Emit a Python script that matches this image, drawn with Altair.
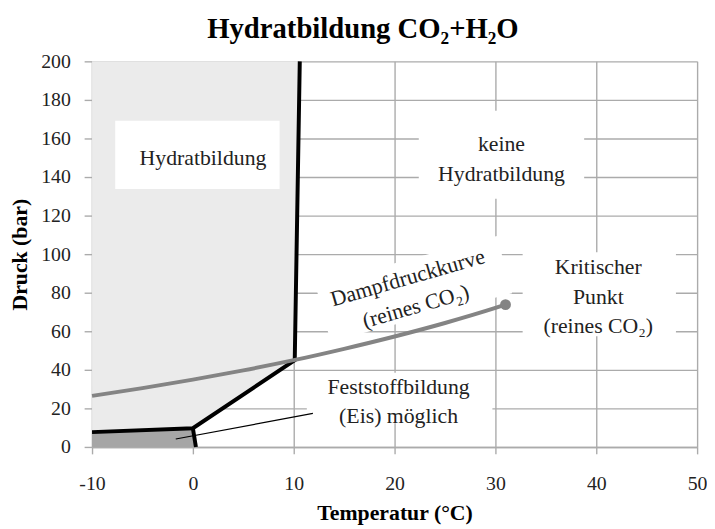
import altair as alt
import pandas as pd

# ---- data ----
hyd_T = [-10.0, 0.0, 10.1, 10.6]
hyd_p = [7.7, 9.7, 45.0, 200.0]
ice_T = [0.0, 0.3]
ice_p = [9.7, 0.0]
vap_T = [-10, -5, 0, 5, 10, 15, 20, 25, 30, 31]
vap_p = [26.5, 30.5, 34.9, 39.7, 45.0, 50.9, 57.3, 64.3, 72.1, 73.8]
crit_T = [31.0]
crit_p = [73.8]
leader_T = [-1.7, 11.9]
leader_p = [4.1, 17.4]
p_top = 200.0

# annotation boxes (data units): T0, T1, p0, p1
box_T0 = [-7.7, 22.4, 11.3, 32.7]
box_T1 = [8.6, 38.8, 29.7, 47.9]
box_p0 = [133.8, 128.7, 12.3, 57.4]
box_p1 = [169.2, 174.4, 38.5, 101.0]
# rotated box behind the vapour-pressure label (centre line)
rbox_T = [12.9, 30.9]
rbox_p = [69.4, 94.6]

labels = ["Hydratbildung", "keine\nHydratbildung", "Feststoffbildung\n(Eis) möglich",
          "Kritischer\nPunkt\n(reines CO₂)"]
label_T = [1.0, 30.6, 20.4, 40.2]
label_p = [149.7, 156.9, 31.3, 93.3]
rot_label = ["Dampfdruckkurve\n(reines CO₂)"]
rot_T = [21.3]
rot_p = [87.7]

x_ticks = [-10, 0, 10, 20, 30, 40, 50]
y_ticks = [0, 20, 40, 60, 80, 100, 120, 140, 160, 180, 200]

FONT = "Liberation Serif"
GRID = "#ababab"

xs = alt.Scale(domain=[-10, 50], nice=False, zero=False)
ys = alt.Scale(domain=[0, 200], nice=False)

X = alt.X("T:Q", scale=xs,
          axis=alt.Axis(values=x_ticks, title="Temperatur (°C)", labelFlush=False,
                        labelOverlap=False, tickSize=7, labelPadding=20, titlePadding=9,
                        labelExpr="'' + datum.value"))
Y = alt.Y("p:Q", scale=ys,
          axis=alt.Axis(values=y_ticks, title="Druck (bar)", labelFlush=False,
                        labelOverlap=False, tickSize=8, labelPadding=14, titlePadding=9))

hyd = pd.DataFrame({"T": hyd_T, "p": hyd_p, "i": range(len(hyd_T))})
light_df = pd.DataFrame({"T": hyd_T, "p": hyd_p, "top": [p_top] * len(hyd_T)})
ice = pd.DataFrame({"T": ice_T, "p": ice_p, "i": range(len(ice_T))})
dark = pd.DataFrame({"T": hyd_T[:2] + [ice_T[1]], "p": hyd_p[:2] + [ice_p[1]],
                     "bot": [0.0, 0.0, 0.0]})
vap = pd.DataFrame({"T": vap_T, "p": vap_p})
crit = pd.DataFrame({"T": crit_T, "p": crit_p})
leader = pd.DataFrame({"T": leader_T, "p": leader_p, "i": [0, 1]})
boxes = pd.DataFrame({"T": box_T0, "T2": box_T1, "p": box_p0, "p2": box_p1})
rbox = pd.DataFrame({"T": [rbox_T[0]], "T2": [rbox_T[1]], "p": [rbox_p[0]], "p2": [rbox_p[1]]})
lab = pd.DataFrame({"T": label_T, "p": label_p, "txt": labels})
rlab = pd.DataFrame({"T": rot_T, "p": rot_p, "txt": rot_label})

light = alt.Chart(light_df).mark_area(color="#ebebeb", opacity=1).encode(
    x=X, y=Y, y2="top:Q")
darkarea = alt.Chart(dark).mark_area(color="#a6a6a6", opacity=1).encode(
    x=X, y=Y, y2="bot:Q")
boxl = alt.Chart(boxes).mark_rect(color="white").encode(
    x=X, x2="T2:Q", y=Y, y2="p2:Q")
rboxl = alt.Chart(rbox).mark_rule(color="white", strokeWidth=60, strokeCap="butt").encode(
    x=X, x2="T2:Q", y=Y, y2="p2:Q")
leaderl = alt.Chart(leader).mark_line(color="black", strokeWidth=1.2).encode(
    x=X, y=Y, order="i:Q")
hydl = alt.Chart(hyd).mark_line(color="black", strokeWidth=4).encode(x=X, y=Y, order="i:Q")
icel = alt.Chart(ice).mark_line(color="black", strokeWidth=4).encode(x=X, y=Y, order="i:Q")
vapl = alt.Chart(vap).mark_line(color="#848484", strokeWidth=4, interpolate="monotone").encode(
    x=X, y=Y)
critl = alt.Chart(crit).mark_point(filled=True, color="#848484", size=120, opacity=1).encode(
    x=X, y=Y)
labl = alt.Chart(lab).mark_text(font=FONT, fontSize=22, color="#222222", lineBreak="\n",
                                lineHeight=30, align="center", baseline="middle").encode(
    x=X, y=Y, text="txt:N")
rlabl = alt.Chart(rlab).mark_text(font=FONT, fontSize=22, color="#222222", lineBreak="\n",
                                  lineHeight=30, align="center", baseline="middle",
                                  angle=344).encode(x=X, y=Y, text="txt:N")

chart = alt.layer(light, darkarea, boxl, rboxl, leaderl, hydl, icel, vapl, critl, labl, rlabl
).properties(
    width=612, height=390,
    title=alt.TitleParams("Hydratbildung  CO₂+H₂O", font=FONT, fontSize=29, fontWeight="bold",
                          color="black", anchor="middle", dx=-32, offset=8),
    padding={"left": 85, "top": 51, "right": 10, "bottom": 78},
    autosize=alt.AutoSizeParams(type="none"),
).configure_view(stroke=None).configure_axis(
    labelFont=FONT, labelFontSize=20, labelColor="#222222",
    titleFont=FONT, titleFontSize=22, titleFontWeight="bold", titleColor="black",
    gridColor=GRID, gridWidth=1.4, gridOpacity=1, domainColor=GRID, domainWidth=1.4,
    tickColor=GRID, tickWidth=1.4, grid=True,
)

chart.save("out.html", embed_options={"renderer": "svg", "actions": False})
